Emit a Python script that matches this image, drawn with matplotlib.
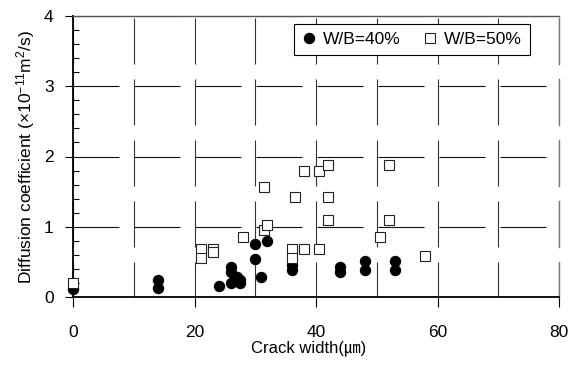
import matplotlib
matplotlib.use("Agg")
import matplotlib.pyplot as plt
from matplotlib.ticker import MultipleLocator

# crack width (um) and diffusion coefficient (x1e-11 m2/s)
x40 = [0, 14, 14, 24, 26, 26, 26, 27, 27.5, 27.5, 30, 30, 31, 32, 36, 36, 44, 44, 48, 48, 53, 53]
y40 = [0.12, 0.24, 0.13, 0.16, 0.43, 0.36, 0.20, 0.29, 0.24, 0.20, 0.75, 0.54, 0.29, 0.80,
       0.45, 0.38, 0.43, 0.35, 0.51, 0.39, 0.51, 0.39]

x50 = [0, 21, 21, 23, 23, 28, 31.4, 31.4, 32, 36, 36, 36.6, 38, 38, 40.5, 40.5, 42, 42, 42,
       50.6, 52, 52, 58]
y50 = [0.2, 0.69, 0.55, 0.69, 0.645, 0.86, 1.57, 0.96, 1.02, 0.69, 0.55, 1.43, 1.80, 0.69,
       1.80, 0.69, 1.88, 1.43, 1.09, 0.85, 1.88, 1.09, 0.59]

labels = ["W/B=40%", "W/B=50%"]
xticks = [0, 20, 40, 60, 80]
yticks = [0, 1, 2, 3, 4]

plt.rcParams['font.family'] = ['Liberation Sans', 'Noto Sans CJK JP', 'DejaVu Sans']
plt.rcParams['mathtext.fontset'] = 'custom'
plt.rcParams['mathtext.rm'] = 'Liberation Sans'
plt.rcParams['mathtext.it'] = 'Liberation Sans:italic'
plt.rcParams['lines.scale_dashes'] = False

px = 72 / 100.0  # points per pixel at dpi 100
on, off = 46 * px, 15 * px

fig = plt.figure(figsize=(5.73, 3.65), dpi=100)
ax = fig.add_axes([73 / 573, 1 - 297 / 365, 486 / 573, 281 / 365])

ax.plot(x40, y40, 'o', color='black', markersize=7.2, label=labels[0], zorder=3,
        clip_on=False)
ax.plot(x50, y50, 's', markerfacecolor='white', markeredgecolor='#222222',
        markeredgewidth=0.8, markersize=7.4, label=labels[1], zorder=3, clip_on=False)

ax.set_xlim(0, 80)
ax.set_ylim(0, 4)
ax.set_xticks(xticks)
ax.set_yticks(yticks)
ax.xaxis.set_minor_locator(MultipleLocator(10))
ax.yaxis.set_minor_locator(MultipleLocator(0.2))

ax.tick_params(axis='x', which='major', direction='out', length=7, width=0.8,
               labelsize=12.5, pad=13.5)
ax.tick_params(axis='x', which='minor', length=0)
ax.tick_params(axis='y', which='major', direction='out', length=6, width=0.8,
               labelsize=12.5, pad=8)
ax.tick_params(axis='y', which='minor', direction='in', length=4, width=0.8)

# broken grid lines like the original
ax.xaxis.grid(True, which='both', color='#333333', linewidth=0.8,
              linestyle=(11 * px, (on, off)))
ax.yaxis.grid(True, which='major', color='#111111', linewidth=0.8,
              linestyle=(0, (on, off)))
ax.set_axisbelow(True)

for s in ['left', 'bottom']:
    ax.spines[s].set_linewidth(1.3)
    ax.spines[s].set_color('black')
ax.spines['top'].set_color('#555555')
ax.spines['top'].set_linewidth(1.0)
ax.spines['right'].set_color('#777777')
ax.spines['right'].set_linewidth(1.0)
ax.spines['right'].set_linestyle((11 * px, (on, off)))

ax.set_xlabel("Crack width(㎛)", fontsize=12, labelpad=1)
ax.xaxis.set_label_coords(0.484, -0.155)
ax.xaxis.label.set_va('top')
ax.set_ylabel("Diffusion coefficient (×10$^{-11}$m$^{2}$/s)", fontsize=12.5, labelpad=5)

leg = ax.legend(loc='upper right', bbox_to_anchor=(0.94, 0.972), borderaxespad=0,
                ncol=2, fontsize=12.5, frameon=True, fancybox=False, framealpha=1,
                edgecolor='black', handlelength=0.8, handletextpad=0.4,
                columnspacing=1.3, borderpad=0.45)
leg.get_frame().set_linewidth(0.8)

fig.savefig("out.png", dpi=100)
